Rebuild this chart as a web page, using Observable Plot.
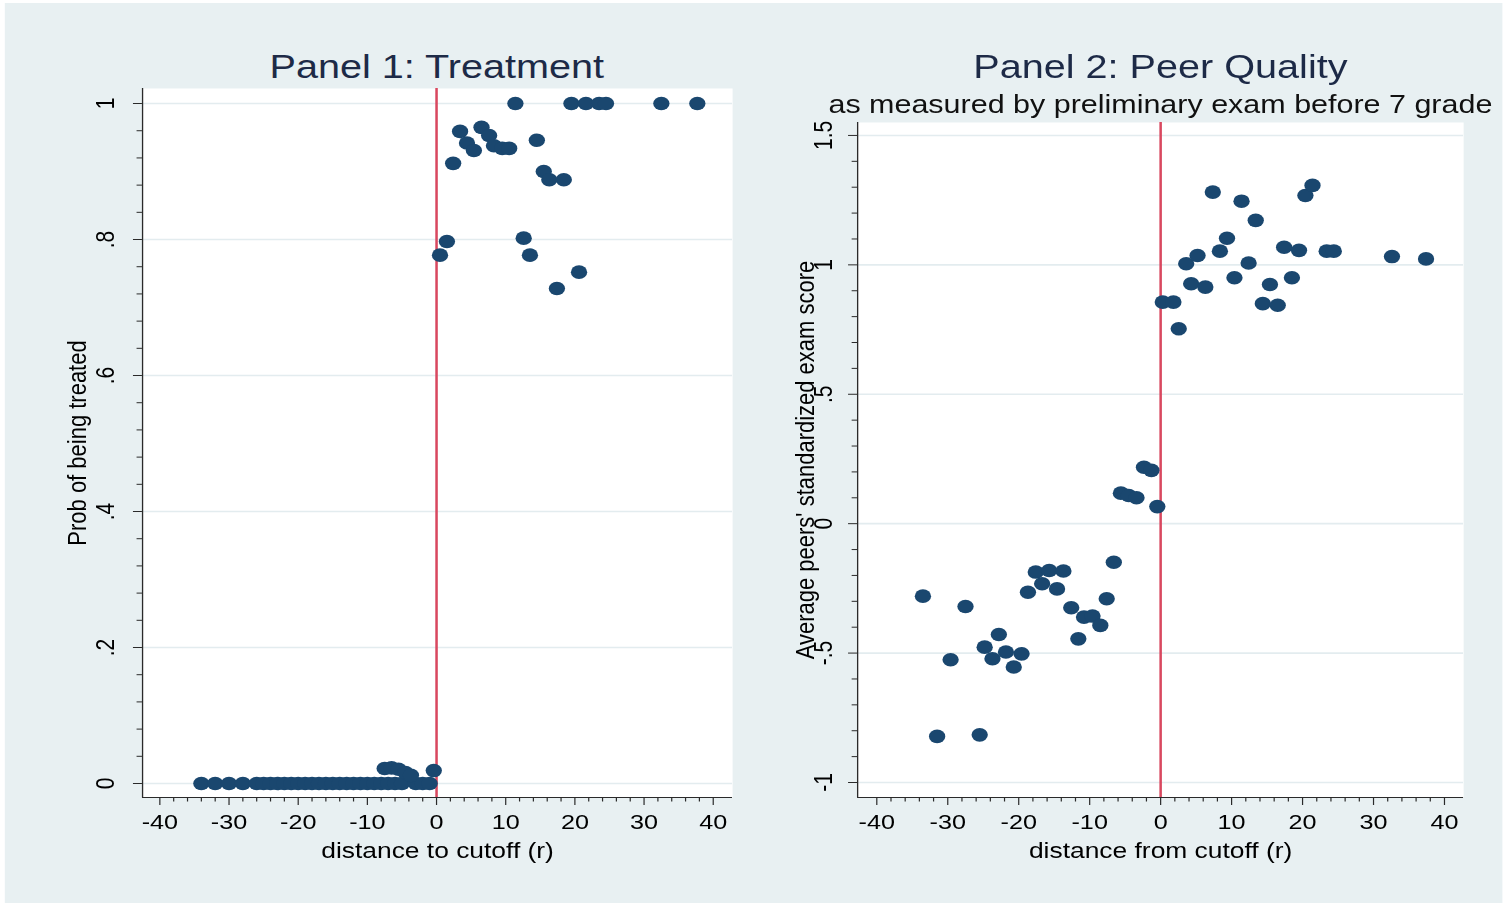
<!DOCTYPE html>
<html>
<head>
<meta charset="utf-8">
<script src="https://cdn.jsdelivr.net/npm/d3@7"></script>
<script src="https://cdn.jsdelivr.net/npm/@observablehq/plot@0.6"></script>
<style>
  html, body { margin: 0; padding: 0; background: #ffffff; }
  /* The graph is laid out on a 1256px-wide sheet and widened 1.2x to fill the window */
  #sheet {
    position: absolute; left: 0; top: 0; width: 1256px; height: 907px;
    transform: scaleX(1.2); transform-origin: 0 0;
    font-family: "Liberation Sans", Arial, Helvetica, sans-serif;
  }
  #region { position: absolute; left: 4.2px; top: 3px; width: 1247.5px; height: 900px; background: #e8f0f2; }
  .title {
    position: absolute; width: 700px; text-align: center; white-space: nowrap;
    color: #1d2a47; font-size: 33px; line-height: 33px;
  }
  .subtitle {
    position: absolute; width: 700px; text-align: center; white-space: nowrap;
    color: #111; font-size: 25.4px; line-height: 25.4px;
  }
  .panel { position: absolute; top: 80px; }
</style>
</head>
<body>
<div id="sheet">
  <div id="region"></div>
  <div class="title" style="left:14px; top:50px;">Panel 1: Treatment</div>
  <div class="title" style="left:617px; top:50px;">Panel 2: Peer Quality</div>
  <div class="subtitle" style="left:617px; top:91.5px;">as measured by preliminary exam before 7 grade</div>
  <div class="panel" id="p1" style="left:20px;"></div>
  <div class="panel" id="p2" style="left:640px;"></div>
</div>
<script>
// Panel 1: share treated, by distance to the cutoff
const treatX = [
  -34, -32, -30, -28, -26, -25, -24, -23, -22, -21, -20, -19, -18, -17, -16, -15,
  -14, -13, -12, -11, -10, -9, -8, -7, -6, -5, -3, -2, -1,
  -7.5, -6.5, -5.5, -4.5, -3.7, -0.4,
  0.5, 1.5, 2.4, 3.4, 4.4, 5.4, 6.5, 7.6, 8.3, 9.5, 10.5, 11.4, 12.6, 13.5,
  14.5, 15.5, 16.3, 17.4, 18.4, 19.5, 20.6, 21.6, 23.5, 24.5, 32.5, 37.7
];
const treatY = [
  0, 0, 0, 0, 0, 0, 0, 0, 0, 0, 0, 0, 0, 0, 0, 0,
  0, 0, 0, 0, 0, 0, 0, 0, 0, 0, 0, 0, 0,
  0.022, 0.023, 0.021, 0.016, 0.012, 0.019,
  0.777, 0.797, 0.912, 0.959, 0.942, 0.931, 0.965, 0.953, 0.938, 0.934, 0.934, 1, 0.802, 0.777,
  0.946, 0.900, 0.888, 0.728, 0.888, 1, 0.752, 1, 1, 1, 1, 1
];

// Panel 2: average standardized exam score of peers
const peerX = [
  -33.5, -31.5, -29.6, -27.5, -25.5, -24.8, -23.7, -22.8, -21.8, -20.7, -19.6, -18.7,
  -17.6, -16.7, -15.7, -14.6, -13.7, -12.6, -11.6, -10.8, -9.6, -8.5, -7.6, -6.6,
  -5.6, -4.5, -3.4, -2.35, -1.3, -0.47,
  0.3, 1.8, 2.55, 3.6, 4.3, 5.2, 6.3, 7.35, 8.35, 9.35, 10.4, 11.4, 12.4, 13.4,
  14.4, 15.4, 16.5, 17.4, 18.5, 19.5, 20.4, 21.4, 23.4, 24.4, 32.6, 37.4
];
const peerY = [
  -0.280, -0.822, -0.526, -0.320, -0.816, -0.477, -0.522, -0.428, -0.496, -0.554, -0.503, -0.265,
  -0.187, -0.232, -0.181, -0.252, -0.183, -0.325, -0.445, -0.361, -0.357, -0.393, -0.290, -0.149,
  0.118, 0.109, 0.100, 0.218, 0.206, 0.066,
  0.856, 0.856, 0.753, 1.004, 0.927, 1.036, 0.914, 1.281, 1.053, 1.103, 0.950, 1.246, 1.007, 1.172,
  0.850, 0.924, 0.844, 1.068, 0.950, 1.056, 1.268, 1.307, 1.053, 1.053, 1.032, 1.023
];

// Axis ticks
const xMajor = [-40, -30, -20, -10, 0, 10, 20, 30, 40];
const xMinor = [-38, -36, -34, -32, -28, -26, -24, -22, -18, -16, -14, -12, -8, -6, -4, -2,
                2, 4, 6, 8, 12, 14, 16, 18, 22, 24, 26, 28, 32, 34, 36, 38];
const y1Major = [0, 0.2, 0.4, 0.6, 0.8, 1];
const y1Labels = ["0", ".2", ".4", ".6", ".8", "1"];
const y1Minor = [0.04, 0.08, 0.12, 0.16, 0.24, 0.28, 0.32, 0.36, 0.44, 0.48, 0.52, 0.56,
                 0.64, 0.68, 0.72, 0.76, 0.84, 0.88, 0.92, 0.96];
const y2Major = [-1, -0.5, 0, 0.5, 1, 1.5];
const y2Labels = ["-1", "-.5", "0", ".5", "1", "1.5"];
const y2Minor = [-0.9, -0.8, -0.7, -0.6, -0.4, -0.3, -0.2, -0.1, 0.1, 0.2, 0.3, 0.4,
                 0.6, 0.7, 0.8, 0.9, 1.1, 1.2, 1.3, 1.4];

const navy = "#1a476f";
const red = "#d9485f";
const grid = "#e3ecef";
const axisInk = "#2a2a2a";
const font = "'Liberation Sans', Arial, Helvetica, sans-serif";

function panel({points, xDomain, yDomain, yMajor, yLabels, yMinor, yTitle, xTitle,
                margins, tickOffset, titleOffset}) {
  const labelOf = new Map(yMajor.map((v, i) => [v, yLabels[i]]));
  return Plot.plot({
    width: margins.width, height: 800,
    marginLeft: margins.left, marginRight: margins.right,
    marginTop: margins.top, marginBottom: margins.bottom,
    x: {domain: xDomain},
    y: {domain: yDomain},
    style: {fontFamily: font, fontSize: "21px", background: "transparent", overflow: "visible", color: "#000"},
    marks: [
      Plot.frame({fill: "#ffffff", stroke: null}),
      Plot.gridY(yMajor, {stroke: grid, strokeOpacity: 1, strokeWidth: 1.6}),
      Plot.ruleX([0], {stroke: red, strokeWidth: 2.1}),
      Plot.dot(points, {x: "x", y: "y", r: 6.8, fill: navy, stroke: null}),
      // axis lines along the left and bottom of the plot region
      Plot.ruleX([xDomain[0]], {stroke: axisInk, strokeWidth: 1.1}),
      Plot.ruleY([yDomain[0]], {stroke: axisInk, strokeWidth: 1.1}),
      // y ticks: major and minor, labels rotated
      Plot.axisY(yMajor, {tickSize: 7.5, tickFormat: () => "", stroke: axisInk, label: null}),
      Plot.axisY(yMinor, {tickSize: 4.5, tickFormat: () => "", stroke: axisInk, label: null}),
      Plot.text(yMajor, {y: d => d, frameAnchor: "left", text: d => labelOf.get(d),
        rotate: -90, dx: -tickOffset, textAnchor: "middle", lineAnchor: "middle", fontSize: 21}),
      // x ticks
      Plot.axisX(xMajor, {tickSize: 8, tickPadding: 9, tickFormat: d => String(d),
        stroke: axisInk, label: null, fontSize: 21}),
      Plot.axisX(xMinor, {tickSize: 4.5, tickFormat: () => "", stroke: axisInk, label: null}),
      // axis titles
      Plot.text([yTitle], {frameAnchor: "left", text: d => d, rotate: -90, dx: -titleOffset,
        textAnchor: "middle", lineAnchor: "middle", fontSize: 22}),
      Plot.text([xTitle], {frameAnchor: "bottom", text: d => d, dy: 53,
        lineAnchor: "middle", fontSize: 22})
    ]
  });
}

const treatPoints = treatX.map((x, i) => ({x, y: treatY[i]}));
const peerPoints = peerX.map((x, i) => ({x, y: peerY[i]}));

document.getElementById("p1").append(panel({
  points: treatPoints,
  xDomain: [-42.5, 42.8],
  yDomain: [-0.0206, 1.0221],
  yMajor: y1Major, yLabels: y1Labels, yMinor: y1Minor,
  yTitle: "Prob of being treated",
  xTitle: "distance to cutoff (r)",
  margins: {width: 600, left: 98.3, right: 10, top: 8, bottom: 83},
  tickOffset: 30.8, titleOffset: 54.1
}));

document.getElementById("p2").append(panel({
  points: peerPoints,
  xDomain: [-42.7, 42.7],
  yDomain: [-1.058, 1.550],
  yMajor: y2Major, yLabels: y2Labels, yMinor: y2Minor,
  yTitle: "Average peers' standardized exam score",
  xTitle: "distance from cutoff (r)",
  margins: {width: 590, left: 74.2, right: 10.8, top: 42, bottom: 83},
  tickOffset: 28.4, titleOffset: 43.4
}));
</script>
</body>
</html>
